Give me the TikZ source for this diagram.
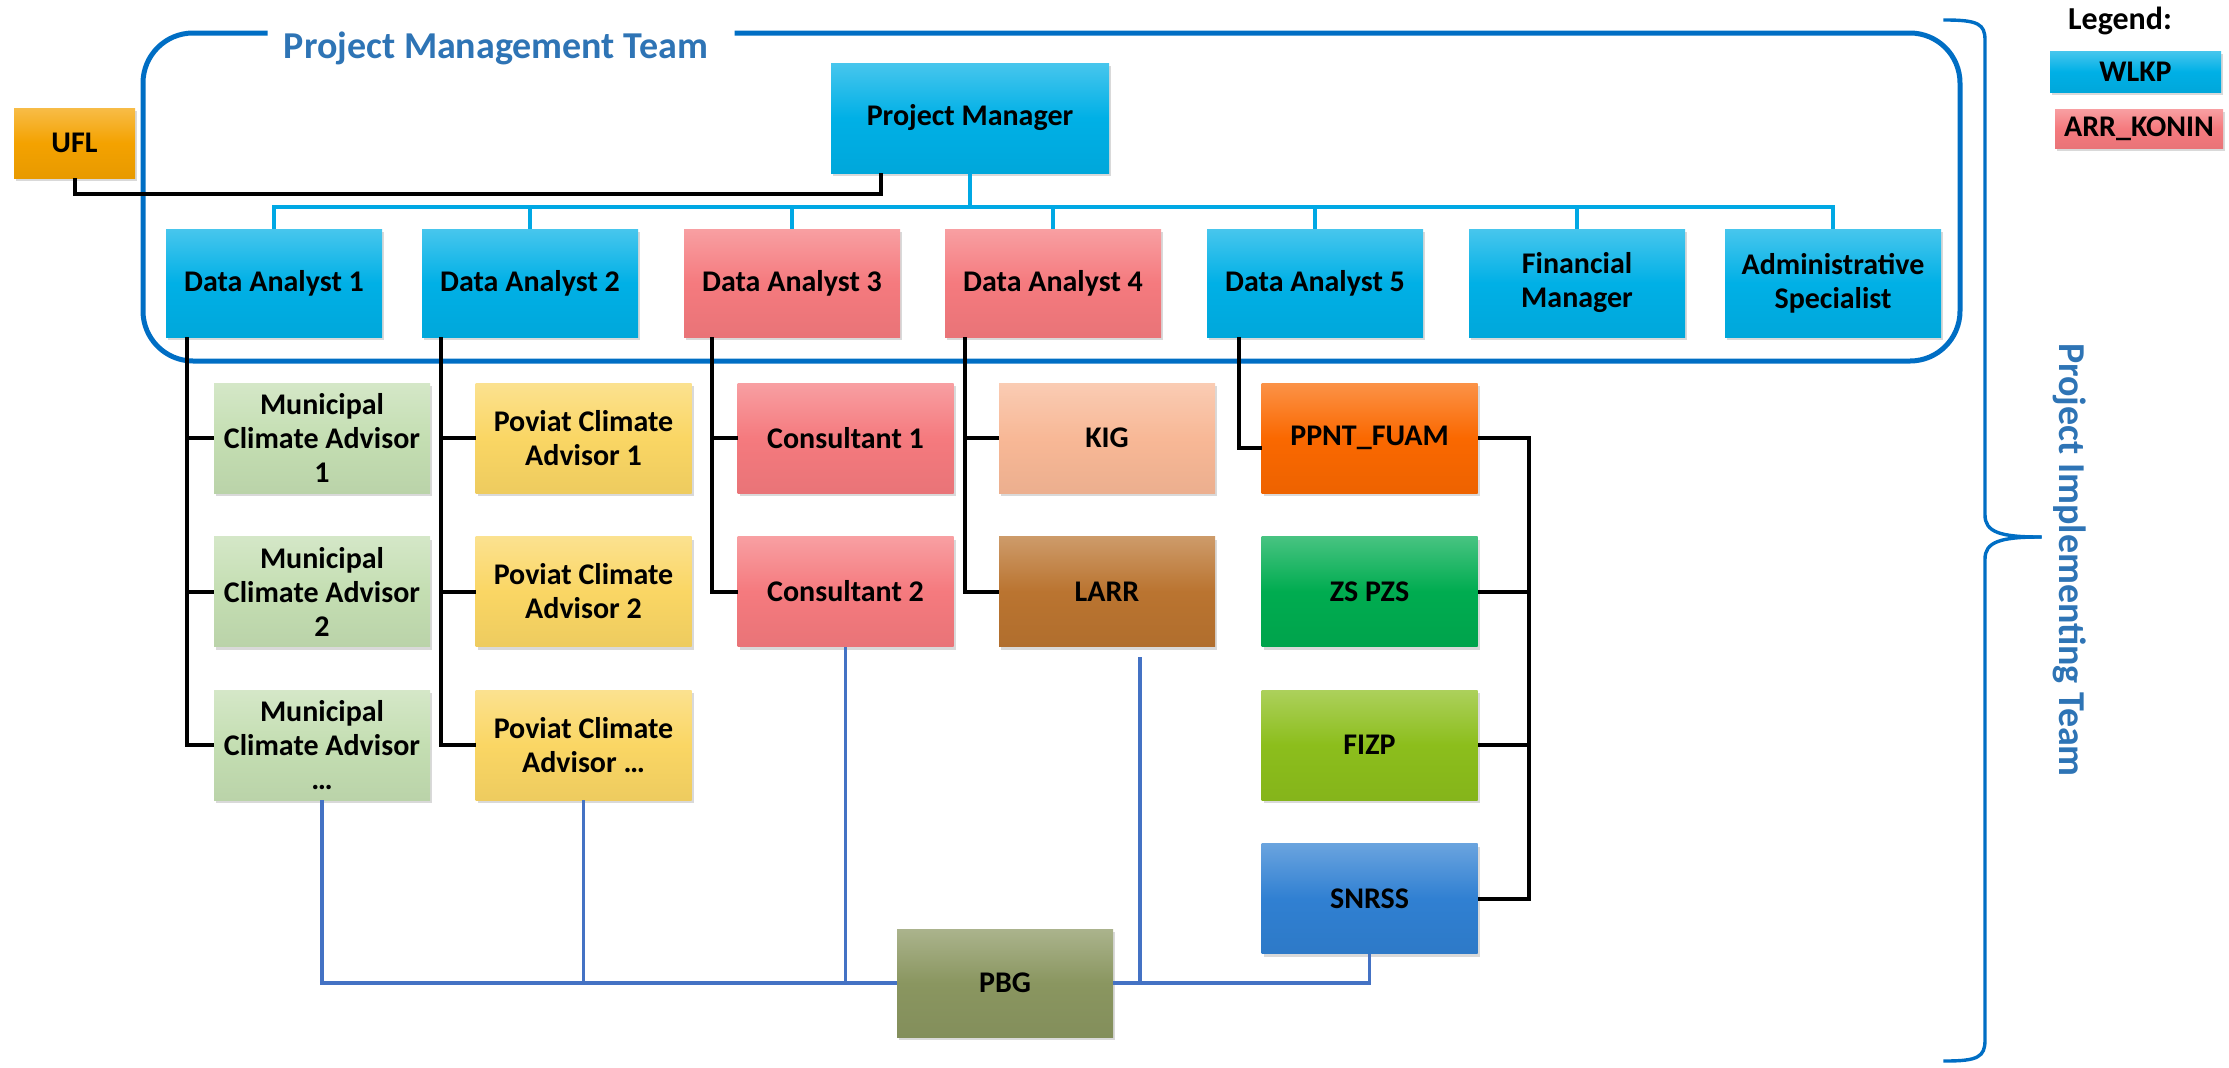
\documentclass[tikz,border=0pt]{standalone}
\usepackage{fontspec}
\setmainfont{Carlito}
\usetikzlibrary{shadows}
\definecolor{wlkp}{RGB}{0,176,230}
\definecolor{konin}{RGB}{245,122,126}
\definecolor{muni}{RGB}{196,222,178}
\definecolor{poviat}{RGB}{250,214,100}
\definecolor{kigc}{RGB}{248,184,150}
\definecolor{larrc}{RGB}{186,116,48}
\definecolor{ppntc}{RGB}{250,104,0}
\definecolor{zsc}{RGB}{0,172,80}
\definecolor{fizpc}{RGB}{140,190,28}
\definecolor{snrssc}{RGB}{48,128,210}
\definecolor{pbgc}{RGB}{138,150,96}
\definecolor{uflc}{RGB}{244,162,0}
\definecolor{teamframe}{RGB}{0,110,196}
\definecolor{titleblue}{RGB}{46,116,181}
\definecolor{busblue}{RGB}{0,168,228}
\definecolor{feedblue}{RGB}{68,114,196}
\begin{document}
\begin{tikzpicture}[x=0.5pt,y=-0.5pt,line width=2pt,line cap=rect,
 unit/.style={top color=#1!72!white,bottom color=#1!95!black,middle color=#1,
  drop shadow={opacity=.3,shadow xshift=1pt,shadow yshift=-1.5pt},
  minimum width=108pt,minimum height=55pt,inner sep=2pt,align=center,
  font=\fontsize{15}{17}\selectfont\bfseries},
 link/.style={draw=black},
 bus/.style={draw=busblue},
 feed/.style={draw=feedblue,line width=1.7pt},
 team/.style={text=titleblue,inner sep=0pt,font=\fontsize{19}{21}\selectfont\bfseries}]
\useasboundingbox (0,0) rectangle (2229,1067);

\draw[teamframe,line width=2.5pt,rounded corners=25pt] (265,33) -- (143,33) -- (143,361)
 -- (1960,361) -- (1960,33) -- (737,33);
\node[team,anchor=base] (pmt) at (496,58) {Project Management Team};

\draw[teamframe,line width=1.7pt] (1945,20) .. controls (1978,20) and (1985,24) .. (1985,40)
 -- (1985,515) .. controls (1985,532) and (2000,537) .. (2040,537);
\draw[teamframe,line width=1.7pt] (2040,537) .. controls (2000,537) and (1985,542) .. (1985,559)
 -- (1985,1040) .. controls (1985,1057) and (1978,1061) .. (1945,1061);
\node[team,rotate=-90] (pit) at (2070,560) {Project Implementing Team};

\node[font=\fontsize{16}{18}\selectfont\bfseries] (legend) at (2120,21) {Legend:};
\node[unit=wlkp,minimum width=85.5pt,minimum height=20.5pt] (keyw) at (2135.5,71.5) {WLKP};
\node[unit=konin,minimum width=84pt,minimum height=19.5pt] (keyk) at (2139,128.5) {ARR\_KONIN};

\node[unit=uflc,minimum width=60.5pt,minimum height=35pt] (ufl) at (74.5,143) {UFL};
\node[unit=wlkp,minimum width=139pt] (pm) at (970,118) {Project Manager};
\foreach \i/\x/\col in {1/274/wlkp,2/530/wlkp,3/792/konin,4/1053/konin,5/1315/wlkp}
 \node[unit=\col,minimum height=54pt] (da\i) at (\x,283) {Data Analyst \i};
\node[unit=wlkp,minimum height=54pt] (fin) at (1577,283) {Financial\\Manager};
\node[unit=wlkp,minimum height=54pt] (adm) at (1833,283) {Administrative\\Specialist};

\foreach \r/\y/\t in {1/438/1,2/591.5/2,3/745/\dots} {
 \node[unit=muni] (mca\r) at (322,\y) {Municipal\\Climate Advisor\\\t};
 \node[unit=poviat] (pov\r) at (583.5,\y) {Poviat Climate\\Advisor \t};
}
\node[unit=konin] (con1) at (845.5,438) {Consultant 1};
\node[unit=konin] (con2) at (845.5,591.5) {Consultant 2};
\node[unit=kigc] (kig) at (1107,438) {KIG};
\node[unit=larrc] (larr) at (1107,591.5) {LARR};
\node[unit=ppntc] (ppnt) at (1369.5,438) {PPNT\_FUAM};
\node[unit=zsc] (zs) at (1369.5,591.5) {ZS PZS};
\node[unit=fizpc] (fizp) at (1369.5,745) {FIZP};
\node[unit=snrssc] (snrss) at (1369.5,898.5) {SNRSS};
\node[unit=pbgc,minimum height=54pt] (pbg) at (1005,983) {PBG};

\draw[link] (ufl.south) -- ++(0,-7pt) -| ([xshift=26pt]pm.south west);
\coordinate (hub) at (970,207);
\draw[bus] (pm.south) -- (hub);
\foreach \n in {da1,da2,da3,da4,da5,fin,adm}
 \draw[bus] (hub) -| (\n.north);

\foreach \r in {1,2,3} {
 \draw[link] ([xshift=11.5pt]da1.south west) |- (mca\r.west);
 \draw[link] ([xshift=10.5pt]da2.south west) |- (pov\r.west);
}
\draw[link] ([xshift=15pt]da3.south west) |- (con1.west);
\draw[link] ([xshift=15pt]da3.south west) |- (con2.west);
\draw[link] ([xshift=11pt]da4.south west) |- (kig.west);
\draw[link] ([xshift=11pt]da4.south west) |- (larr.west);
\draw[link] ([xshift=17pt]da5.south west) |- ([yshift=-5pt]ppnt.west);
\draw[link] (ppnt.east) -- ++(24.5pt,0) |- (snrss.east);
\draw[link] (zs.east) -- ++(24.5pt,0);
\draw[link] (fizp.east) -- ++(24.5pt,0);

\draw[feed] (mca3.south) |- (pbg.west);
\draw[feed] (pov3.south) -- (pov3.south |- pbg.west);
\draw[feed] (con2.south) -- (con2.south |- pbg.west);
\draw[feed] ([xshift=16.5pt,yshift=-5pt]larr.south) -- ([xshift=16.5pt]larr.south |- pbg.east);
\draw[feed] (pbg.east) -| (snrss.south);
\end{tikzpicture}
\end{document}
